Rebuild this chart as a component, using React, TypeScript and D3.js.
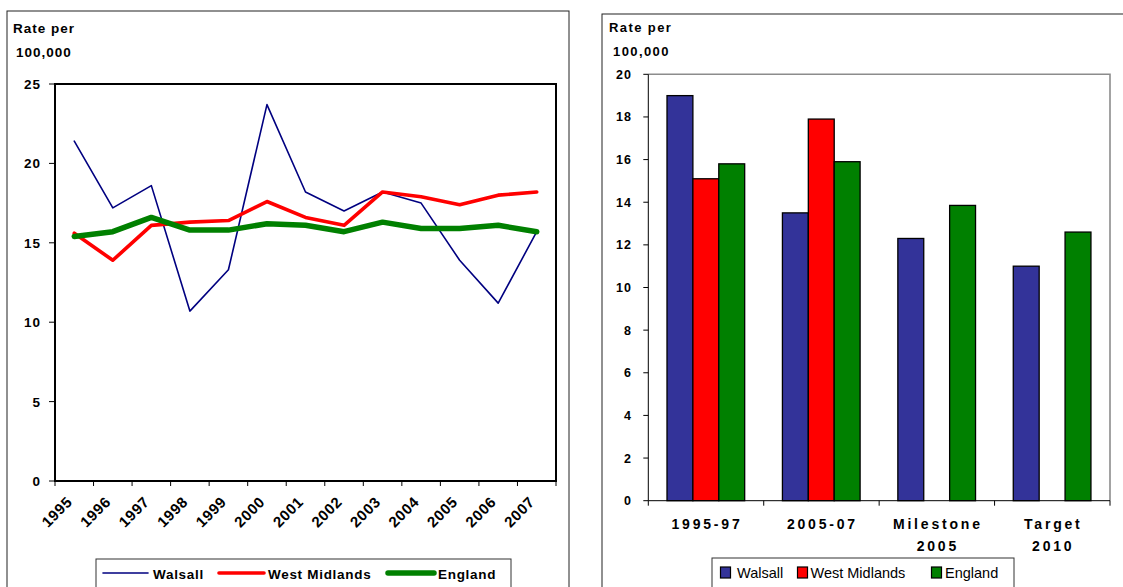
import React from 'react';
import * as d3 from 'd3';

const years = ['1995','1996','1997','1998','1999','2000','2001','2002','2003','2004','2005','2006','2007'];
const walsall = [21.4,17.2,18.6,10.7,13.3,23.7,18.2,17.0,18.2,17.5,13.9,11.2,15.7];
const westMidlands = [15.6,13.9,16.1,16.3,16.4,17.6,16.6,16.1,18.2,17.9,17.4,18.0,18.2];
const england = [15.4,15.7,16.6,15.8,15.8,16.2,16.1,15.7,16.3,15.9,15.9,16.1,15.7];
const lineTicks = [0,5,10,15,20,25];

const periods = ['1995-97','2005-07','Milestone 2005','Target 2010'];
const periodLines = [['1995-97'],['2005-07'],['Milestone','2005'],['Target','2010']];
const barWalsall = [19.0,13.5,12.3,11.0];
const barWestMidlands: (number|null)[] = [15.1,17.9,null,null];
const barEngland = [15.8,15.9,13.85,12.6];
const barTicks = [0,2,4,6,8,10,12,14,16,18,20];

const seriesNames = ['Walsall','West Midlands','England'];
const lineColors = ['#000080','#FF0000','#008000'];
const lineWidths = [1.6,3.6,5.5];
const barColors = ['#333399','#FF0000','#008000'];

const FONT = '"Liberation Sans", Arial, sans-serif';

function LineChart() {
  const L = 55, R = 556, T = 84, B = 481;
  const x = d3.scaleBand<string>().domain(years).range([L, R]);
  const y = d3.scaleLinear().domain([0, 25]).range([B, T]);
  const data = [walsall, westMidlands, england];
  const line = d3.line<number>().x((_, i) => (x(years[i]) as number) + x.bandwidth() / 2).y(d => y(d));
  const edges = years.map(yr => x(yr) as number).concat([R]);
  return (
    <g fontFamily={FONT}>
      <rect x={7} y={11} width={562} height={600} fill="#fff" stroke="#222" strokeWidth={1} />
      <text x={13} y={33} fontSize={13.5} fontWeight="bold" letterSpacing={1}>Rate per</text>
      <text x={16} y={57} fontSize={13.5} fontWeight="bold" letterSpacing={1}>100,000</text>
      <rect x={L} y={T} width={R - L} height={B - T} fill="#fff" stroke="#000" strokeWidth={2} />
      {lineTicks.map(t => (
        <g key={t}>
          <line x1={L - 6} x2={L} y1={y(t)} y2={y(t)} stroke="#000" strokeWidth={1} />
          <text x={41} y={y(t) + 5} textAnchor="end" fontSize={13.5} fontWeight="bold" letterSpacing={1}>{t}</text>
        </g>
      ))}
      {edges.map((e, i) => (
        <line key={i} x1={e} x2={e} y1={B} y2={B + 5} stroke="#000" strokeWidth={1} />
      ))}
      {years.map(yr => {
        const cx = (x(yr) as number) + x.bandwidth() / 2;
        return (
          <text key={yr} transform={`translate(${cx - 9},${495}) rotate(-45)`} textAnchor="end" dy="0.75em"
            fontSize={15} fontWeight="bold" letterSpacing={0.6}>{yr}</text>
        );
      })}
      {data.map((d, i) => (
        <path key={i} d={line(d) as string} fill="none" stroke={lineColors[i]} strokeWidth={lineWidths[i]}
          strokeLinejoin="round" strokeLinecap="round" />
      ))}
      <rect x={96} y={559} width={415} height={60} fill="#fff" stroke="#333" strokeWidth={1} />
      {[[103, 148, 153], [219, 264, 268], [388, 434, 438]].map((p, i) => (
        <g key={i}>
          <line x1={p[0]} x2={p[1]} y1={573} y2={573} stroke={lineColors[i]} strokeWidth={lineWidths[i]} strokeLinecap="round" />
          <text x={p[2]} y={579} fontSize={13.5} fontWeight="bold" letterSpacing={0.7}>{seriesNames[i]}</text>
        </g>
      ))}
    </g>
  );
}

function BarChart() {
  const L = 648.3, R = 1110, T = 74.3, B = 500.7;
  const x0 = d3.scaleBand<string>().domain(periods).range([L, R]);
  const bw = x0.bandwidth();
  const x1 = d3.scaleBand<string>().domain(seriesNames).range([bw * 0.162, bw * 0.835]);
  const y = d3.scaleLinear().domain([0, 20]).range([B, T]);
  const data = [barWalsall, barWestMidlands, barEngland];
  const edges = periods.map(p => x0(p) as number).concat([R]);
  return (
    <g fontFamily={FONT}>
      <rect x={602} y={14} width={600} height={600} fill="#fff" stroke="#222" strokeWidth={1} />
      <text x={609} y={32} fontSize={13} fontWeight="bold" letterSpacing={1.4}>Rate per</text>
      <text x={613} y={56} fontSize={13} fontWeight="bold" letterSpacing={1.4}>100,000</text>
      <path d={`M${L},${T}H${R}V${B}`} fill="none" stroke="#8c8c8c" strokeWidth={1.6} />
      {periods.map((p, pi) =>
        data.map((s, si) => {
          const v = s[pi];
          if (v == null) return null;
          return (
            <rect key={`${pi}-${si}`} x={(x0(p) as number) + (x1(seriesNames[si]) as number)} y={y(v)}
              width={x1.bandwidth()} height={B - y(v)} fill={barColors[si]} stroke="#000" strokeWidth={1.3} />
          );
        })
      )}
      <line x1={L} x2={L} y1={T} y2={B} stroke="#000" strokeWidth={1} />
      <line x1={L} x2={R} y1={B} y2={B} stroke="#000" strokeWidth={1} />
      {barTicks.map(t => (
        <g key={t}>
          <line x1={L - 5} x2={L} y1={y(t)} y2={y(t)} stroke="#000" strokeWidth={1} />
          <text x={632} y={y(t) + 4.5} textAnchor="end" fontSize={12.5} fontWeight="bold" letterSpacing={1}>{t}</text>
        </g>
      ))}
      {edges.map((e, i) => (
        <line key={i} x1={e} x2={e} y1={B} y2={B + 5} stroke="#000" strokeWidth={1} />
      ))}
      {periods.map((p, pi) => (
        <text key={p} x={(x0(p) as number) + bw / 2 + 1} y={529} textAnchor="middle" fontSize={14}
          fontWeight="bold" letterSpacing={2.8}>
          {periodLines[pi].map((ln, li) => (
            <tspan key={li} x={(x0(p) as number) + bw / 2 + 1} dy={li === 0 ? 0 : 22}>{ln}</tspan>
          ))}
        </text>
      ))}
      <rect x={712} y={558} width={302} height={60} fill="#fff" stroke="#333" strokeWidth={1} />
      {[[720.5, 737], [797.5, 810.5], [931.5, 945]].map((p, i) => (
        <g key={i}>
          <rect x={p[0]} y={567} width={10} height={11} fill={barColors[i]} stroke="#000" strokeWidth={1.2} />
          <text x={p[1]} y={578} fontSize={14.5}>{seriesNames[i]}</text>
        </g>
      ))}
    </g>
  );
}

export default function App() {
  return (
    <svg width={1123} height={587} style={{ position: 'absolute', left: 0, top: 0, background: '#fff' }}>
      <rect x={0} y={0} width={1123} height={587} fill="#fff" />
      <LineChart />
      <BarChart />
    </svg>
  );
}
